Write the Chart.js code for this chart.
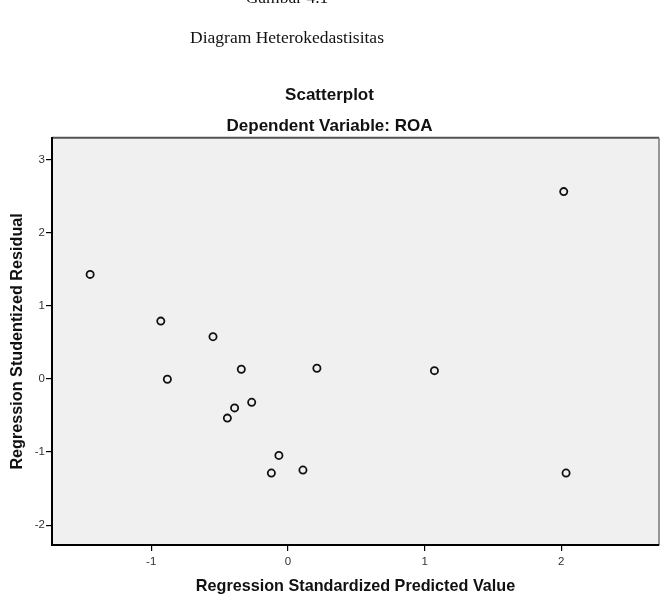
<!DOCTYPE html>
<html>
<head>
<meta charset="utf-8">
<script src="https://cdn.jsdelivr.net/npm/chart.js@4/dist/chart.umd.min.js"></script>
<style>
  body { margin: 0; background: #fff; }
  canvas { display: block; }
</style>
</head>
<body>
<canvas id="scatterChart" width="661" height="616"></canvas>
<script>
// Regression standardized predicted value (x) vs studentized residual (y)
const predicted = [-1.447, -0.93, -0.882, -0.548, -0.341, -0.443, -0.39, -0.265, -0.066, -0.121, 0.11, 0.212, 1.072, 2.018, 2.035];
const residual = [1.428, 0.79, -0.005, 0.577, 0.132, -0.536, -0.396, -0.32, -1.046, -1.287, -1.246, 0.146, 0.113, 2.56, -1.287];

const xRange = [-1.726, 2.715];
const yRange = [-2.27, 3.295];

const points = predicted.map((x, i) => ({ x: x, y: residual[i] }));

// plot background, top/right frame and the caption text above the chart
const frame = {
  id: 'frame',
  beforeDraw(chart) {
    const { ctx, chartArea: a } = chart;
    ctx.save();
    ctx.fillStyle = '#f0f0f0';
    ctx.fillRect(a.left, a.top, a.right - a.left, a.bottom - a.top);

    ctx.strokeStyle = '#555';
    ctx.lineWidth = 2;
    ctx.beginPath();
    ctx.moveTo(a.left, a.top);
    ctx.lineTo(a.right, a.top);
    ctx.stroke();
    ctx.strokeStyle = '#777';
    ctx.lineWidth = 1.5;
    ctx.beginPath();
    ctx.moveTo(a.right, a.top);
    ctx.lineTo(a.right, a.bottom);
    ctx.stroke();

    ctx.fillStyle = '#111';
    ctx.font = '17.5px "Liberation Serif", "Times New Roman", serif';
    ctx.textAlign = 'center';
    ctx.textBaseline = 'alphabetic';
    ctx.fillText('Gambar 4.1', 287, 3);
    ctx.fillText('Diagram Heterokedastisitas', 287, 43);
    ctx.restore();
  }
};

const ctx = document.getElementById('scatterChart').getContext('2d');

const chart = new Chart(ctx, {
  type: 'scatter',
  data: {
    datasets: [{
      data: points,
      pointStyle: 'circle',
      pointRadius: 3.6,
      pointHoverRadius: 3.6,
      borderColor: '#111',
      borderWidth: 1.8,
      backgroundColor: 'rgba(0,0,0,0)'
    }]
  },
  options: {
    responsive: false,
    animation: false,
    layout: { autoPadding: false, padding: { top: 0, left: 0, right: 2, bottom: 0 } },
    plugins: {
      legend: { display: false },
      tooltip: { enabled: false },
      title: {
        display: true,
        text: 'Scatterplot',
        color: '#111',
        padding: { top: 85, bottom: 11 },
        font: { size: 17, weight: 'bold', family: '"Liberation Sans", Arial, sans-serif' }
      },
      subtitle: {
        display: true,
        text: 'Dependent Variable: ROA',
        color: '#111',
        padding: { top: 0, bottom: 1 },
        font: { size: 17, weight: 'bold', family: '"Liberation Sans", Arial, sans-serif' }
      }
    },
    scales: {
      x: {
        type: 'linear',
        min: xRange[0],
        max: xRange[1],
        afterFit(scale) { scale.height = 71; },
        ticks: {
          stepSize: 1,
          includeBounds: false,
          padding: 4,
          color: '#333',
          font: { size: 11.5, family: '"Liberation Sans", Arial, sans-serif' }
        },
        grid: { display: true, drawOnChartArea: false, drawTicks: true, tickLength: 6, color: '#000', lineWidth: 1.2 },
        border: { display: true, color: '#000', width: 2 },
        title: {
          display: true,
          text: 'Regression Standardized Predicted Value',
          color: '#111',
          padding: { top: 0, bottom: 20 },
          font: { size: 16.2, weight: 'bold', family: '"Liberation Sans", Arial, sans-serif' }
        }
      },
      y: {
        type: 'linear',
        min: yRange[0],
        max: yRange[1],
        afterFit(scale) { scale.width = 52; },
        ticks: {
          stepSize: 1,
          includeBounds: false,
          padding: 1,
          color: '#333',
          font: { size: 11.5, family: '"Liberation Sans", Arial, sans-serif' }
        },
        grid: { display: true, drawOnChartArea: false, drawTicks: true, tickLength: 6, color: '#000', lineWidth: 1.2 },
        border: { display: true, color: '#000', width: 2 },
        title: {
          display: true,
          text: 'Regression Studentized Residual',
          color: '#111',
          padding: { top: 8, bottom: 0 },
          font: { size: 16.2, weight: 'bold', family: '"Liberation Sans", Arial, sans-serif' }
        }
      }
    }
  },
  plugins: [frame]
});
</script>
</body>
</html>
